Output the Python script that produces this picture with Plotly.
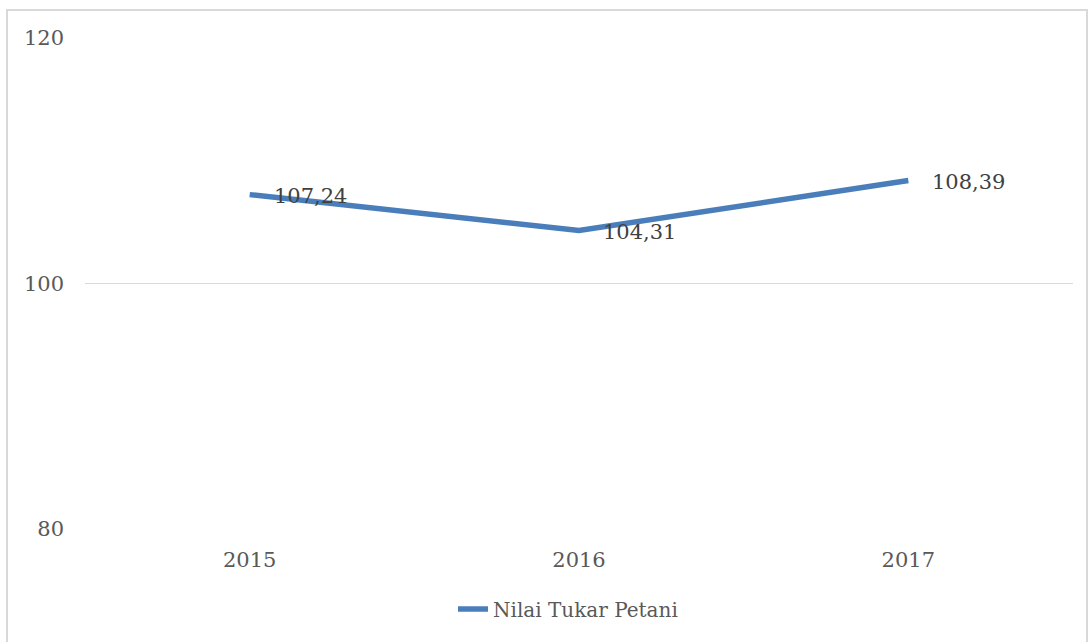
import plotly.graph_objects as go

years = ["2015", "2016", "2017"]
ntp = [107.24, 104.31, 108.39]
labels = ["107,24", "104,31", "108,39"]
series_name = "Nilai Tukar Petani"
y_ticks = [80, 100, 120]

FONT = "DejaVu Serif"
FS = 21

fig = go.Figure()
fig.add_trace(go.Scatter(
    x=years, y=ntp, mode="lines", name=series_name,
    line=dict(color="#4a7ebb", width=5.5),
    showlegend=True,
))

for i, (y, t) in enumerate(zip(ntp, labels)):
    fig.add_annotation(x=i, y=y, xref="x", yref="y", text=t, showarrow=False,
                       xanchor="left", yanchor="middle", xshift=22, yshift=-1,
                       font=dict(family=FONT, size=FS, color="#404040"))

W, H = 1090, 642
l, r, t, b = 85, 17, 38, 113
pw, ph = W - l - r, H - t - b

fig.update_layout(
    width=W, height=H,
    margin=dict(l=l, r=r, t=t, b=b),
    paper_bgcolor="white", plot_bgcolor="white",
    font=dict(family=FONT, size=FS, color="#595959"),
    showlegend=True,
    legend=dict(orientation="h", x=(568 - l) / pw, xanchor="center",
                y=(t + ph - 609) / ph, yanchor="middle",
                font=dict(family=FONT, size=20, color="#595959"),
                bgcolor="rgba(0,0,0,0)"),
    xaxis=dict(type="category", range=[-0.5, 2.5], showgrid=False,
               showline=False, zeroline=False, ticks="",
               ticklabelstandoff=16,
               tickfont=dict(family=FONT, size=FS, color="#595959")),
    yaxis=dict(range=[80, 120], tickvals=y_ticks, showgrid=True,
               gridcolor="#d9d9d9", gridwidth=1, zeroline=False,
               showline=False, ticks="", ticklabelstandoff=20,
               tickfont=dict(family=FONT, size=FS, color="#595959")),
    shapes=[dict(type="rect", xref="paper", yref="paper",
                 x0=(7 - l) / pw, x1=(1087 - l) / pw,
                 y0=(t + ph - 650) / ph, y1=(t + ph - 10) / ph,
                 line=dict(color="#d9d9d9", width=2), layer="below")],
)

fig.write_html("out.html",
               config={"displayModeBar": False},
               post_script="document.body.style.margin='0';document.body.style.padding='0';")
